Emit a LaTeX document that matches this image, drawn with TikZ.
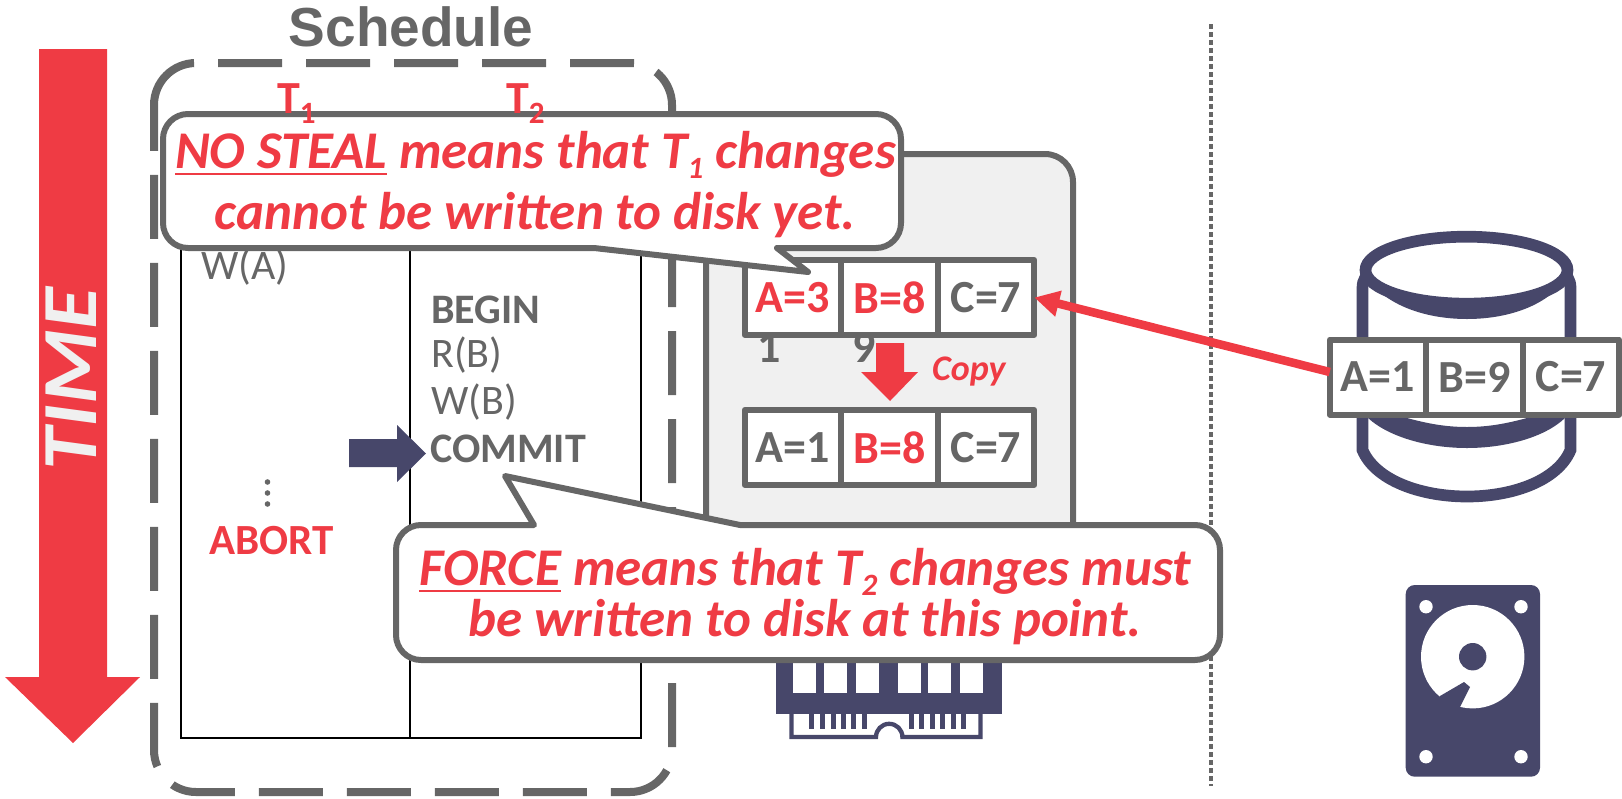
\documentclass[tikz,border=0pt]{standalone}
\usepackage{fontspec}
\setmainfont{Carlito}
\newfontfamily\titlefont{Liberation Sans}
\usetikzlibrary {arrows.meta, positioning}

\definecolor{linegray}{HTML}{666666}
\definecolor{alertred}{HTML}{EF3B44}
\definecolor{disknavy}{HTML}{47476A}
\definecolor{poolgray}{HTML}{F0F0F0}

\newcommand{\pxfont}[1]{\fontsize{#1}{#1}\selectfont}
\newcommand{\lowsub}[1]{\raisebox{-10pt}{\pxfont{31}#1}}
\newcommand{\ulword}[1]{\setbox0\hbox{#1}\rlap{\rule[-7pt]{\wd0}{2.5pt}}\box0\relax}

\begin{document}
\begin{tikzpicture}[
    x=1pt,
    y=-1pt,
    >={Triangle[length=25pt,width=25pt]},
    on grid,
    node distance=96.5pt,
    label/.style={anchor=base west, inner sep=0pt, text=linegray, font=\pxfont{42}},
    boldlabel/.style={label, font=\pxfont{42}\bfseries},
    redlabel/.style={boldlabel, text=alertred},
    cell/.style={draw=linegray, fill=white, line width=6pt, line join=round, minimum width=96.5pt,
        minimum height=75pt, inner sep=0pt, outer sep=0pt, text=linegray, font=\pxfont{46}\bfseries},
    redcell/.style={cell, text=alertred},
    calloutbox/.style={draw=linegray, fill=white, line width=6pt, line join=round},
    callouttext/.style={inner sep=0pt, text=alertred, align=center, font=\pxfont{53}\bfseries\itshape},
]

    \useasboundingbox (0,0) rectangle (1622,798);

    \fill[alertred] (39,49) -- (107,49) -- (107,677) -- (140,677) -- (73,743) -- (5,677) -- (39,677) -- cycle;
    \node[rotate=90, xscale=1.1, inner sep=0pt, text=poolgray, font=\pxfont{78}\bfseries\itshape] (time) at (71,379) {TIME};

    \node[anchor=base, inner sep=0pt, text=linegray, font=\titlefont\pxfont{55}\bfseries] (schedule) at (411,46) {Schedule};

    \draw[black, line width=2pt] (181,200) -- (181,738) -- (641,738) -- (641,200)
        (410,200) -- (410,738);
    \draw[linegray, line width=8pt, dash pattern=on 64pt off 24pt]
        (154,105) arc[start angle=180, end angle=270, radius=42] -- (630,63)
        arc[start angle=270, end angle=360, radius=42] -- (672,750)
        arc[start angle=0, end angle=90, radius=42] -- (196,792)
        arc[start angle=90, end angle=180, radius=42] -- cycle;

    \node[label] (wa) at (201,279) {W(A)};
    \node[boldlabel] (begin) at (431,323) {BEGIN};
    \node[label] (rb) at (431,367) {R(B)};
    \node[label] (wb) at (431,414) {W(B)};
    \node[boldlabel] (commit) at (430,462) {COMMIT};
    \node[redlabel, font=\pxfont{43}\bfseries] (abort) at (209,554) {ABORT};
    \foreach \doty in {482,493,504}
        \fill[linegray] (267.5,\doty) circle[radius=2.8];

    \fill[disknavy] (349,439) -- (397,439) -- (397,425) -- (426,453.5) -- (397,482) -- (397,467) -- (349,467) -- cycle;

    \draw[linegray, fill=poolgray, line width=6pt, rounded corners=28pt] (706,154) rectangle (1073,640);

    \node[boldlabel, font=\pxfont{46}\bfseries] (oldone) at (757,362) {1};
    \node[boldlabel, font=\pxfont{46}\bfseries] (oldnine) at (852,362) {9};

    \node[redcell] (tA) at (793,297.5) {A=3};
    \node[redcell, right =of tA] (tB) {B=8};
    \node[cell,    right =of tB] (tC) {C=7};
    \node[cell,    below =150pt of tA] (cA) {A=1};
    \node[redcell, right =of cA] (cB) {B=8};
    \node[cell,    right =of cB] (cC) {C=7};

    \fill[alertred] (876,343) -- (904,343) -- (904,372) -- (918,372) -- (890,401) -- (861,372) -- (876,372) -- cycle;
    \node[redlabel, font=\pxfont{36}\bfseries\itshape] (copy) at (932,380) {Copy};

    \draw[linegray, line width=4pt, dash pattern=on 4.5pt off 3.5pt] (1211,24) -- (1211,786);

    \fill[disknavy] (776,650) rectangle (1001.7,714);
    \foreach \winx in {793.3,824,855.7,897.7,928.3,960}
        \fill[white] (\winx,650) rectangle +(23,43.3);
    \foreach \pinx in {809.3,820,830.7,840.7,851.3,861.7,909,919.3,930,940,951,961}
        \fill[disknavy] (\pinx,714) rectangle +(5,15.3);
    \draw[disknavy, line width=4.3pt] (791.5,714) -- (791.5,737) -- (876,737)
        arc[start angle=180, end angle=360, radius=13.2] -- (980.5,737) -- (980.5,714);

    \draw[disknavy, line width=11.7pt, fill=white] (1374,270) .. controls (1366,274) and (1362.5,280) .. (1362.5,288) -- (1362.5,450)
        .. controls (1375,480) and (1420,496.5) .. (1467,496.5)
        .. controls (1514,496.5) and (1558,480) .. (1570.5,450) -- (1570.5,288)
        .. controls (1570.5,280) and (1567,274) .. (1559,270);
    \fill[disknavy] (1368,280) .. controls (1390,308) and (1430,319) .. (1467,319)
        .. controls (1504,319) and (1544,308) .. (1565,280) -- cycle;
    \fill[disknavy] (1368,418) .. controls (1390,438) and (1430,448) .. (1467,448)
        .. controls (1504,448) and (1544,438) .. (1565,418) -- (1527,418)
        .. controls (1505,424) and (1487,427) .. (1467,427)
        .. controls (1447,427) and (1429,424) .. (1407,418) -- cycle;
    \draw[disknavy, line width=11.7pt, fill=white] (1466.5,270.2) ellipse[x radius=101, y radius=33.5];

    \node[cell] (dA) at (1378,377) {A=1};
    \node[cell, right =of dA] (dB) {B=9};
    \node[cell, right =of dB] (dC) {C=7};

    \path ([yshift=5pt]dA.west) edge [->, alertred, line width=8.5pt] (tC.east);

    \fill[disknavy, rounded corners=9pt] (1405.7,585) rectangle (1540,776.7);
    \foreach \holex/\holey in {1426/606.7, 1521/606.7, 1426/756.7, 1521/756.7}
        \fill[white] (\holex,\holey) circle[radius=6.7];
    \fill[white] (1472.7,656.7) circle[radius=51.7];
    \fill[disknavy] (1472.7,656.7) circle[radius=13.7];
    \fill[disknavy] (1440,696) -- (1464,682) -- (1470,687) -- (1460,707) -- (1450,720) -- (1430,712) -- cycle;

    \draw[calloutbox, rounded corners=25pt] (163,180) -- (163,114) -- (901,114) -- (901,248) -- (850,248)
        [sharp corners] -- (777,248) -- (808,272) -- (594,248) -- (500,248)
        [rounded corners=25pt] -- (163,248) -- cycle;
    \node[callouttext] (steal) at (535.5,184.5) {\ulword{NO STEAL} means that T\lowsub{1} changes\\[8pt] cannot be written to disk yet.};

    \draw[calloutbox, rounded corners=25pt] (396,590) -- (396,525) -- (460,525)
        [sharp corners] -- (534,525) -- (505,476) -- (740,525) -- (800,525)
        [rounded corners=25pt] -- (1220,525) -- (1220,660) -- (396,660) -- cycle;
    \node[callouttext] (force) at (805,596.5) {\ulword{FORCE} means that T\lowsub{2} changes must\\[-2pt] be written to disk at this point.};

    \node[redlabel, font=\pxfont{46}\bfseries] (tone) at (277,113) {T\lowsub{1}};
    \node[redlabel, font=\pxfont{46}\bfseries] (ttwo) at (506,113) {T\lowsub{2}};

\end{tikzpicture}
\end{document}
